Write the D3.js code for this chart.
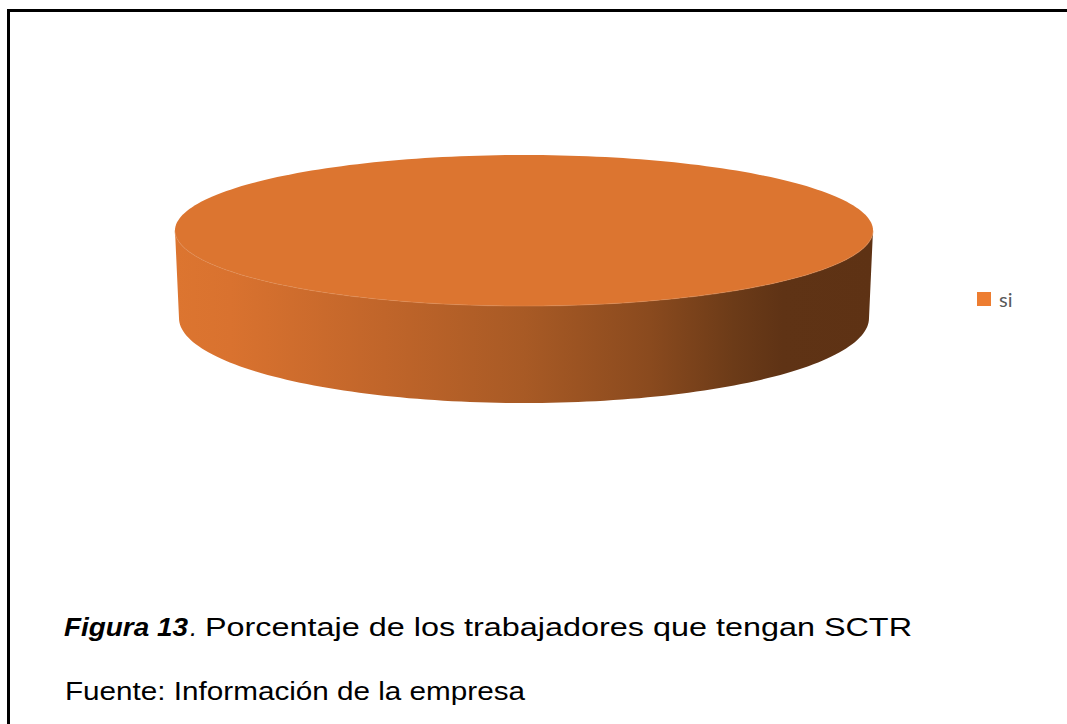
<!DOCTYPE html>
<html>
<head>
<meta charset="utf-8">
<script src="https://cdn.jsdelivr.net/npm/d3@7"></script>
<style>
  body { margin: 0; background: #fff; }
  svg { display: block; }
</style>
</head>
<body>
<div id="chart"></div>
<script>
// data
const categories = ["si"];
const values = [100];
const colors = ["#DC7530"];

const captionBold = "Figura 13";
const captionRest = "Porcentaje de los trabajadores que tengan SCTR";
const sourceText = "Fuente: Información de la empresa";

const width = 1067, height = 724;

const svg = d3.select("#chart").append("svg")
  .attr("width", width)
  .attr("height", height);

// frame around the figure (right and bottom run off the page)
svg.append("path")
  .attr("d", `M8.5,${height + 5} L8.5,10.5 L${width + 5},10.5`)
  .attr("fill", "none")
  .attr("stroke", "#000")
  .attr("stroke-width", 3);

// 3D pie geometry
const topE = {cx: 524, cy: 230.5, rx: 349, ry: 75.5};
const botE = {cx: 524, cy: 318, rx: 345, ry: 85};

const pie = d3.pie().sort(null).value(d => d.value);
const slices = pie(categories.map((c, i) => ({name: c, value: values[i], color: colors[i]})));

const pt = (e, t) => [e.cx + e.rx * Math.sin(t), e.cy - e.ry * Math.cos(t)];

const defs = svg.append("defs");
const grad = defs.append("linearGradient")
  .attr("id", "sideGrad")
  .attr("gradientUnits", "userSpaceOnUse")
  .attr("x1", topE.cx - topE.rx).attr("x2", topE.cx + topE.rx)
  .attr("y1", 0).attr("y2", 0);
[[0, "#DC7530"], [0.08, "#D9722F"], [0.3, "#C0652A"], [0.5, "#A85A25"],
 [0.68, "#8A4A1E"], [0.8, "#6C3B18"], [0.87, "#5F3315"], [1, "#5E3214"]]
  .forEach(([o, c]) => grad.append("stop").attr("offset", o).attr("stop-color", c));

const pieG = svg.append("g").attr("class", "pie3d");

// side wall: only the front half (angles pi/2 .. 3pi/2) is visible
slices.forEach(s => {
  const a0 = Math.max(s.startAngle, Math.PI / 2);
  const a1 = Math.min(s.endAngle, 3 * Math.PI / 2);
  if (a1 <= a0) return;
  const n = 120;
  const ts = d3.range(n + 1).map(i => a0 + (a1 - a0) * i / n);
  const upper = ts.map(t => pt(topE, t));
  const lower = ts.slice().reverse().map(t => pt(botE, t));
  pieG.append("path")
    .attr("d", d3.line()(upper.concat(lower)) + "Z")
    .attr("fill", "url(#sideGrad)");
});

// top faces
slices.forEach(s => {
  const n = 240;
  const ts = d3.range(n + 1).map(i => s.startAngle + (s.endAngle - s.startAngle) * i / n);
  const pts = ts.map(t => pt(topE, t));
  const full = s.endAngle - s.startAngle >= 2 * Math.PI - 1e-6;
  const d = full ? d3.line()(pts) + "Z"
                 : `M${topE.cx},${topE.cy}` + d3.line()(pts).replace(/^M/, "L") + "Z";
  pieG.append("path")
    .attr("d", d)
    .attr("fill", s.data.color);
});

// faint light rim along the front edge of the top face
{
  const ts = d3.range(121).map(i => Math.PI / 2 + Math.PI * i / 120);
  pieG.append("path")
    .attr("d", d3.line()(ts.map(t => pt(topE, t))))
    .attr("fill", "none")
    .attr("stroke", "#E08A50")
    .attr("stroke-opacity", 0.5)
    .attr("stroke-width", 1.2);
}

// legend
const legend = svg.append("g").attr("transform", "translate(977,292)");
slices.forEach((s, i) => {
  const g = legend.append("g").attr("transform", `translate(0,${i * 24})`);
  g.append("rect").attr("width", 14).attr("height", 14).attr("fill", "#ED7D31");
  g.append("text")
    .attr("x", 22).attr("y", 15)
    .attr("font-family", "Lato, 'Open Sans', sans-serif")
    .attr("font-size", 20)
    .attr("fill", "#595959")
    .text(s.data.name);
});

// caption (the reference text is stretched horizontally, so fit to its measured widths)
const font = "'Liberation Sans', Arial, sans-serif";
svg.append("text")
  .attr("x", 64).attr("y", 636)
  .attr("font-family", font).attr("font-size", 26)
  .attr("font-weight", "bold").attr("font-style", "italic")
  .attr("textLength", 124).attr("lengthAdjust", "spacingAndGlyphs")
  .text(captionBold);
svg.append("text")
  .attr("x", 190).attr("y", 636)
  .attr("font-family", font).attr("font-size", 26)
  .attr("font-style", "italic")
  .text(".");
svg.append("text")
  .attr("x", 205).attr("y", 636)
  .attr("font-family", font).attr("font-size", 26)
  .attr("textLength", 707).attr("lengthAdjust", "spacingAndGlyphs")
  .text(captionRest);

svg.append("text")
  .attr("x", 65).attr("y", 700)
  .attr("font-family", font).attr("font-size", 26)
  .attr("textLength", 460).attr("lengthAdjust", "spacingAndGlyphs")
  .text(sourceText);
</script>
</body>
</html>
